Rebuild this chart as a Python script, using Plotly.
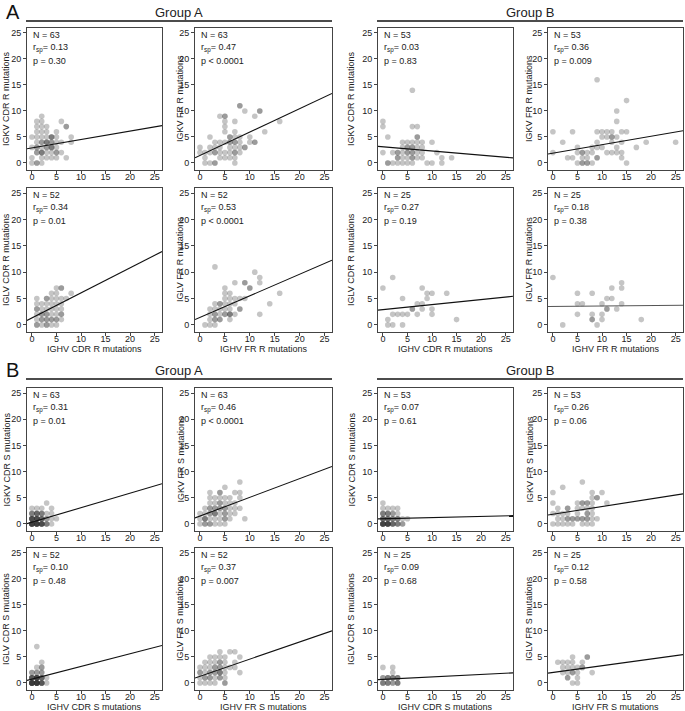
import plotly.graph_objects as go

# ---------------- data (x, y, number of overlapping cases) ----------------
A_IGKV_CDR_R = [(0,0,1),(1,0,2),(2,0,1),
    (0,1,1),(2,1,1),(3,1,1),(4,1,1),(5,1,1),(7,1,1),
    (1,2,2),(2,2,3),(3,2,1),(4,2,1),(5,2,2),(6,2,1),
    (0,3,1),(1,3,2),(2,3,1),(3,3,2),(4,3,3),(5,3,1),
    (1,4,1),(2,4,2),(3,4,3),(4,4,2),(5,4,1),(6,4,1),(8,4,1),
    (0,5,1),(1,5,1),(2,5,1),(3,5,1),(4,5,3),(5,5,1),(8,5,1),
    (1,6,1),(2,6,1),(3,6,1),(5,6,1),
    (1,7,1),(2,7,1),(3,7,1),(7,7,2),
    (1,8,1),(2,8,1),(6,8,1),(2,9,1)]
A_IGKV_FR_R = [(0,2,1),(0,3,1),(1,0,1),(2,0,1),(3,0,2),(7,0,1),
    (1,1,1),(1,2,1),(2,2,1),(2,3,1),(2,5,1),(3,2,2),(3,3,1),(3,4,1),
    (4,1,1),(4,2,1),(4,3,1),(4,4,1),(4,9,1),
    (5,1,1),(5,2,1),(5,4,1),(5,6,1),(5,7,1),(5,8,1),(5,9,2),
    (6,1,1),(6,2,1),(6,3,1),(6,4,2),(6,5,2),
    (7,1,1),(7,2,2),(7,3,1),(7,4,2),(7,5,1),(7,6,1),(7,8,1),
    (8,2,1),(8,3,1),(8,4,1),(8,5,1),(8,11,2),
    (9,3,2),(9,10,1),(10,4,1),(10,5,1),
    (11,4,2),(11,9,1),(12,10,2),(13,6,1),(16,8,1)]
B_IGKV_CDR_R = [(0,2,1),(0,7,1),(0,8,1),(1,0,2),(1,5,1),(2,0,1),(2,2,1),(3,0,1),(3,1,2),(3,2,2),
    (4,0,1),(4,1,1),(4,2,1),(4,3,1),(4,4,1),
    (5,0,1),(5,1,1),(5,2,2),(5,3,2),(5,4,1),
    (6,0,1),(6,1,2),(6,2,2),(6,3,2),(6,4,1),(6,7,1),(6,14,1),
    (7,1,1),(7,2,1),(7,3,1),(7,4,1),(7,5,2),(7,7,1),
    (8,1,1),(8,2,1),(8,3,1),(8,4,1),
    (9,0,1),(10,0,1),(10,4,1),(11,2,1),(12,0,1),(12,1,1),(14,1,1)]
B_IGKV_FR_R = [(0,2,1),(0,6,1),(2,4,1),(3,1,1),(4,1,1),(4,6,1),(5,0,1),(5,2,1),(5,3,1),
    (6,0,2),(6,1,1),(6,2,2),(7,0,2),(7,1,1),(7,2,1),(8,0,1),(8,2,1),(8,3,1),
    (9,1,2),(9,3,1),(9,4,1),(9,6,1),(9,16,1),(10,3,1),(10,5,1),(10,6,1),
    (11,2,1),(11,5,1),(11,6,1),(12,2,1),(12,4,1),(12,5,2),(12,6,1),
    (13,2,1),(13,3,1),(13,5,1),(13,8,1),(13,10,1),
    (14,1,1),(14,2,1),(14,4,1),(14,6,1),(15,0,1),(15,6,1),(15,12,1),(17,3,1),(19,4,1),(25,4,1)]
A_IGLV_CDR_R = [(1,0,2),(1,1,1),(1,2,1),(1,3,2),(1,4,1),(1,5,1),
    (2,0,1),(2,1,2),(2,2,2),(2,3,1),(2,4,1),
    (3,0,2),(3,1,2),(3,2,2),(3,3,1),(3,4,1),(3,5,2),
    (4,0,1),(4,1,2),(4,2,1),(4,3,1),(4,4,1),(4,5,1),(4,6,1),
    (5,0,1),(5,1,2),(5,2,1),(5,3,1),(5,4,1),(5,5,1),(5,6,1),(5,7,1),
    (6,1,1),(6,2,2),(6,3,1),(6,4,1),(6,5,1),(6,7,2),
    (7,5,1),(8,6,1)]
A_IGLV_FR_R = [(1,0,1),(2,0,1),(3,0,1),(2,1,1),(3,1,2),(4,1,2),(6,1,1),
    (2,2,1),(3,2,2),(4,2,1),(5,2,2),(6,2,3),(7,2,1),(12,2,1),
    (2,3,1),(3,3,1),(4,3,1),(5,3,1),(6,3,1),(8,3,2),
    (3,4,1),(4,4,2),(5,4,1),(6,4,1),(7,4,1),(14,4,1),
    (5,5,1),(6,5,1),(7,5,1),(8,5,1),(9,5,1),
    (5,6,1),(6,6,1),(16,6,1),
    (5,7,1),(10,7,2),
    (7,8,1),(9,8,2),(12,8,1),
    (12,9,1),(11,10,1),(3,11,1)]
B_IGLV_CDR_R = [(0,7,1),(2,9,1),(1,1,1),(1,0,1),(2,0,1),(2,2,1),(3,2,1),(4,2,1),(5,2,1),
    (4,5,1),(4,0,1),(6,3,2),(7,4,1),(8,4,1),(7,2,1),(8,7,1),(8,3,1),(9,5,1),
    (9,6,1),(10,6,1),(10,3,1),(10,2,1),(13,6,1),(15,1,1)]
B_IGLV_FR_R = [(0,9,1),(2,0,1),(5,6,1),(5,4,1),(6,4,1),(5,2,1),(8,6,1),(8,2,1),(8,1,2),
    (9,0,1),(10,4,1),(10,2,1),(10,1,1),(11,5,1),(12,5,1),(11,3,2),(12,7,1),(13,3,1),
    (14,8,1),(14,7,1),(14,4,1),(18,1,1)]
A_IGKV_CDR_S = [(0,0,8),(0,1,6),(0,2,3),(0,3,1),
    (1,0,8),(1,1,6),(1,2,4),(1,3,1),
    (2,0,6),(2,1,4),(2,2,3),(2,3,1),
    (3,0,3),(3,1,2),(3,2,1),(3,4,1),
    (4,0,1),(4,1,1),(4,2,1),(4,3,1),(5,1,1)]
A_IGKV_FR_S = [(0,0,1),(1,0,2),(2,0,2),(3,0,1),(4,0,1),(5,0,1),
    (0,1,1),(1,1,3),(2,1,1),(3,1,1),(4,1,1),(5,1,2),(6,1,1),(9,1,1),
    (0,2,1),(1,2,1),(2,2,2),(3,2,3),(4,2,1),(5,2,2),(6,2,1),(7,2,1),
    (1,3,1),(2,3,2),(3,3,2),(4,3,2),(5,3,2),(6,3,1),(7,3,1),(8,3,1),
    (2,4,1),(3,4,1),(4,4,2),(5,4,1),(6,4,1),(7,4,1),
    (2,5,1),(3,5,1),(4,5,1),(5,5,1),(6,5,1),(8,5,1),
    (2,6,1),(4,6,2),(7,6,1),(8,6,1),
    (5,7,1),(8,8,1)]
B_IGKV_CDR_S = [(0,0,7),(0,1,4),(0,2,3),(0,3,1),(0,4,1),
    (1,0,7),(1,1,4),(1,2,3),(1,3,1),
    (2,0,4),(2,1,3),(2,2,2),(2,3,1),
    (3,0,3),(3,1,3),(3,2,1),(3,3,1),
    (4,0,2),(4,1,1),(5,1,1)]
B_IGKV_FR_S = [(0,0,1),(1,0,1),(2,0,1),(3,0,1),(4,0,1),(6,0,1),(7,0,1),(8,0,1),
    (1,1,1),(2,1,1),(3,1,2),(4,1,2),(5,1,2),(6,1,2),(7,1,2),(8,1,1),(9,1,1),
    (0,2,1),(1,2,1),(2,2,1),(3,2,1),(5,2,1),(7,2,2),(8,2,1),
    (1,3,1),(3,3,2),(5,3,1),(6,3,1),(7,3,1),(8,3,1),
    (0,4,1),(5,4,1),(6,4,2),(7,4,2),(8,4,1),(11,4,1),
    (8,5,1),(9,5,2),
    (0,6,1),(8,6,1),(10,6,1),
    (2,7,1),(6,8,1)]
A_IGLV_CDR_S = [(0,0,9),(0,1,5),(0,2,2),(1,0,9),(1,1,7),(1,2,2),(1,3,1),(1,7,1),
    (2,0,5),(2,1,4),(2,2,2),(2,3,2),(2,4,1),(3,0,1),(3,1,1)]
A_IGLV_FR_S = [(0,0,1),(1,0,1),(2,0,1),(3,0,1),(5,0,2),
    (0,1,1),(1,1,2),(2,1,2),(3,1,1),(4,1,2),(5,1,1),
    (0,2,2),(1,2,1),(2,2,2),(3,2,2),(4,2,3),(5,2,1),(8,2,1),
    (0,3,1),(1,3,1),(2,3,1),(3,3,2),(4,3,2),(5,3,1),(6,3,1),(7,3,1),
    (1,4,1),(2,4,1),(3,4,1),(4,4,2),(5,4,1),(7,4,1),
    (2,5,1),(3,5,1),(4,5,1),(5,5,1),(8,5,1),
    (4,6,1),(6,6,1),(7,6,1)]
B_IGLV_CDR_S = [(0,0,3),(0,1,2),(0,3,1),(1,0,3),(1,1,3),(2,0,2),(2,1,3),(2,2,1),(2,3,1),(3,0,3),(3,1,3)]
B_IGLV_FR_S = [(1,4,1),(2,4,1),(3,4,1),(2,3,1),(3,3,1),(4,3,1),(2,2,1),(3,2,1),(4,2,2),(5,2,1),
    (3,1,2),(5,1,1),(4,0,1),(5,0,1),(4,4,1),(4,5,1),(5,3,1),(6,3,2),(6,4,1),(7,5,2),(8,2,1)]

panel_points = [A_IGKV_CDR_R, A_IGKV_FR_R, B_IGKV_CDR_R, B_IGKV_FR_R,
                A_IGLV_CDR_R, A_IGLV_FR_R, B_IGLV_CDR_R, B_IGLV_FR_R,
                A_IGKV_CDR_S, A_IGKV_FR_S, B_IGKV_CDR_S, B_IGKV_FR_S,
                A_IGLV_CDR_S, A_IGLV_FR_S, B_IGLV_CDR_S, B_IGLV_FR_S]

N_values = [63, 63, 53, 53, 52, 52, 25, 25, 63, 63, 53, 53, 52, 52, 25, 25]
r_sp = ["0.13", "0.47", "0.03", "0.36", "0.34", "0.53", "0.27", "0.18",
        "0.31", "0.46", "0.07", "0.26", "0.10", "0.37", "0.09", "0.12"]
p_text = ["= 0.30", "< 0.0001", "= 0.83", "= 0.009", "= 0.01", "< 0.0001", "= 0.19", "= 0.38",
          "= 0.01", "< 0.0001", "= 0.61", "= 0.06", "= 0.48", "= 0.007", "= 0.68", "= 0.58"]
fit_intercept = [2.9, 1.45, 3.12, 1.89, 1.32, 1.41, 2.9, 3.5,
                 0.33, 1.5, 0.98, 1.85, 0.74, 1.29, 0.7, 2.03]
fit_slope = [0.162, 0.45, -0.081, 0.163, 0.475, 0.41, 0.095, 0.008,
             0.277, 0.358, 0.023, 0.147, 0.244, 0.33, 0.047, 0.129]

y_titles = ["IGKV CDR R mutations", "IGKV FR R mutations", "IGKV CDR R mutations", "IGKV FR R mutations",
            "IGLV CDR R mutations", "IGLV FR R mutations", "IGLV CDR R mutations", "IGLV FR R mutations",
            "IGKV CDR S mutations", "IGKV FR S mutations", "IGKV CDR S mutations", "IGKV FR S mutations",
            "IGLV CDR S mutations", "IGLV FR S mutations", "IGLV CDR S mutations", "IGLV FR S mutations"]
x_titles = ["IGHV CDR R mutations", "IGHV FR R mutations", "IGHV CDR R mutations", "IGHV FR R mutations",
            "IGHV CDR S mutations", "IGHV FR S mutations", "IGHV CDR S mutations", "IGHV FR S mutations"]
tick_values = [0, 5, 10, 15, 20, 25]
group_labels = ["Group A", "Group B"]
section_labels = ["A", "B"]

# ---------------- layout geometry (pixels) ----------------
W, H = 685, 711
cols_px = [(27, 162), (195, 332), (378, 513), (548, 683)]
rows_px = [(28, 170), (188, 332), (388, 531), (548, 690)]
ytitle_x = [6, 180, 351, 529]
XR = [-1, 26.5]
YR = [-1.35, 25.96]
FONT = "Liberation Sans, Arial, Helvetica, sans-serif"
TXT = "#222222"

def px(x):
    return x / W

def py(y):
    return 1 - y / H

fig = go.Figure()
annotations = []
shapes = []
layout = {}

for idx in range(16):
    r, c = divmod(idx, 4)
    sfx = "" if idx == 0 else str(idx + 1)
    x0, x1 = cols_px[c]
    y0, y1 = rows_px[r]
    xs, ys = [], []
    for (a, b, n) in panel_points[idx]:
        xs += [a] * n
        ys += [b] * n
    fig.add_trace(go.Scatter(
        x=xs, y=ys, mode="markers",
        marker=dict(size=5.6, color="rgba(45,45,45,0.28)", line=dict(width=0)),
        xaxis="x" + sfx, yaxis="y" + sfx, showlegend=False, hoverinfo="skip"))
    lx = XR
    ly = [fit_intercept[idx] + fit_slope[idx] * v for v in lx]
    fig.add_trace(go.Scatter(
        x=lx, y=ly, mode="lines",
        line=dict(color="#555555" if idx == 7 else "#111111", width=1.1),
        xaxis="x" + sfx, yaxis="y" + sfx, showlegend=False, hoverinfo="skip"))
    layout["xaxis" + sfx] = dict(
        domain=[px(x0), px(x1)], range=XR, anchor="y" + sfx,
        tickvals=tick_values, ticks="outside", ticklen=3, tickwidth=1, tickcolor="#444",
        ticklabelstandoff=-5,
        showline=True, mirror=True, linecolor="#444", linewidth=1,
        showgrid=False, zeroline=False, fixedrange=True,
        tickfont=dict(size=9, color=TXT, family=FONT))
    layout["yaxis" + sfx] = dict(
        domain=[py(y1), py(y0)], range=YR, anchor="x" + sfx,
        tickvals=tick_values, ticks="outside", ticklen=3, tickwidth=1, tickcolor="#444",
        showline=True, mirror=True, linecolor="#444", linewidth=1,
        showgrid=False, zeroline=False, fixedrange=True,
        tickfont=dict(size=9, color=TXT, family=FONT))
    stats = ["N = %d" % N_values[idx], "r<sub>sp</sub>= " + r_sp[idx], "p " + p_text[idx]]
    for k, t in enumerate(stats):
        annotations.append(dict(x=px(x0 + 4), y=py(y0 + 7 + 13 * k), xref="paper", yref="paper",
                                text=t, showarrow=False, xanchor="left", yanchor="middle",
                                font=dict(size=9, color=TXT, family=FONT)))
    annotations.append(dict(x=px(ytitle_x[c]), y=py((y0 + y1) / 2), xref="paper", yref="paper",
                            text=y_titles[idx], textangle=-90, showarrow=False,
                            xanchor="center", yanchor="middle",
                            font=dict(size=9, color=TXT, family=FONT)))
    if r in (1, 3):
        xt = x_titles[(r // 2) * 4 + c]
        annotations.append(dict(x=px((x0 + x1) / 2), y=py(y1 + 17), xref="paper", yref="paper",
                                text=xt, showarrow=False, xanchor="center", yanchor="middle",
                                font=dict(size=9, color=TXT, family=FONT)))

header_y = [12, 370]
rule_y = [21, 379]
for s in range(2):
    for g in range(2):
        xa = cols_px[2 * g][0] - 1
        xb = cols_px[2 * g + 1][1]
        annotations.append(dict(x=px((xa + xb) / 2), y=py(header_y[s]), xref="paper", yref="paper",
                                text=group_labels[g], showarrow=False, xanchor="center", yanchor="middle",
                                font=dict(size=13, color=TXT, family=FONT)))
        shapes.append(dict(type="line", xref="paper", yref="paper",
                           x0=px(xa), x1=px(xb), y0=py(rule_y[s]), y1=py(rule_y[s]),
                           line=dict(color="#111", width=1.6)))
    annotations.append(dict(x=px(4), y=py(header_y[s]), xref="paper", yref="paper",
                            text=section_labels[s], showarrow=False, xanchor="left", yanchor="middle",
                            font=dict(size=20, color="#111", family=FONT)))

fig.update_layout(width=W, height=H, margin=dict(l=0, r=0, t=0, b=0),
                  paper_bgcolor="white", plot_bgcolor="white",
                  annotations=annotations, shapes=shapes, **layout)

fig.write_html("out.html", config={"displayModeBar": False},
               post_script="document.body.style.margin='0';")
